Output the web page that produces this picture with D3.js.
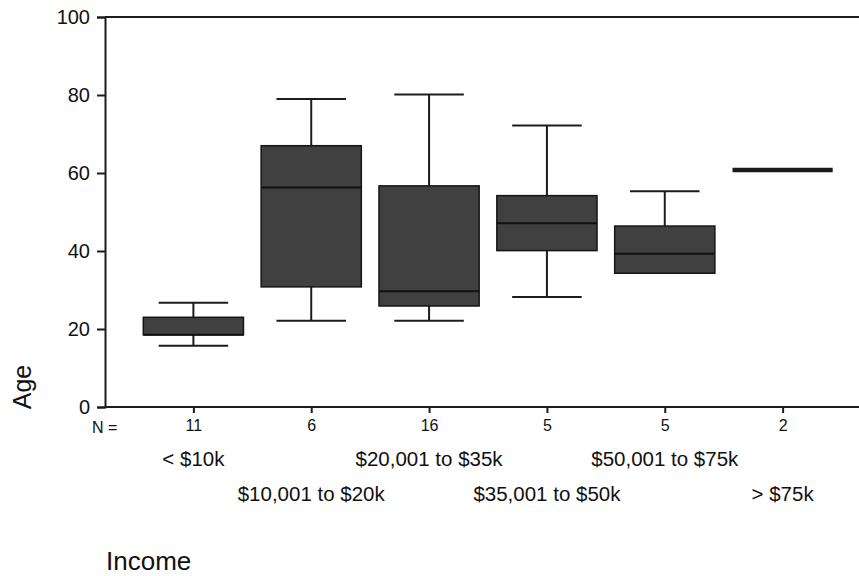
<!DOCTYPE html>
<html>
<head>
<meta charset="utf-8">
<script src="https://cdn.jsdelivr.net/npm/d3@7"></script>
<style>
  html, body { margin: 0; padding: 0; background: #ffffff; }
  svg { display: block; }
  text { font-family: "Liberation Sans", Arial, sans-serif; fill: #111; }
</style>
</head>
<body>
<svg id="chart" width="859" height="576"></svg>
<script>
// ---- Data ----
const categories = ["< $10k", "$10,001 to $20k", "$20,001 to $35k", "$35,001 to $50k", "$50,001 to $75k", "> $75k"];
const nCounts    = [11, 6, 16, 5, 5, 2];
const whiskerMin = [15.7, 22.1, 22.1, 28.2, 34.3, 60.8];
const q1Values   = [18.5, 30.8, 25.9, 40.1, 34.3, 60.8];
const medians    = [18.5, 56.3, 29.7, 47.1, 39.3, 60.8];
const q3Values   = [23.0, 67.0, 56.7, 54.2, 46.4, 60.8];
const whiskerMax = [26.7, 79.0, 80.1, 72.2, 55.3, 60.8];
const yTicks     = [0, 20, 40, 60, 80, 100];
const yTitle = "Age";
const xTitle = "Income";

// ---- Layout ----
const svg = d3.select("#chart");
const plotLeft = 105, plotRight = 871, plotTop = 17, plotBottom = 407;

const x = d3.scalePoint().domain(categories).range([plotLeft, plotRight]).padding(0.75);
const y = d3.scaleLinear().domain([0, 100]).range([plotBottom, plotTop]);
const step = x.step();
const boxW = step * 0.85;
const capW = step * 0.59;
const ink = "#1c1c1c";

const boxes = categories.map((c, i) => ({
  cat: c, n: nCounts[i], min: whiskerMin[i], q1: q1Values[i], med: medians[i], q3: q3Values[i], max: whiskerMax[i]
}));

// top frame line
svg.append("line")
  .attr("x1", plotLeft).attr("x2", plotRight).attr("y1", y(100)).attr("y2", y(100))
  .attr("stroke", ink).attr("stroke-width", 2);

// y axis
const yAxis = svg.append("g")
  .attr("transform", `translate(${plotLeft},0)`)
  .call(d3.axisLeft(y).tickValues(yTicks).tickSize(8).tickPadding(7).tickFormat(d3.format("d")));
yAxis.select(".domain").attr("stroke", ink).attr("stroke-width", 2);
yAxis.selectAll(".tick line").attr("stroke", ink).attr("stroke-width", 2);
yAxis.selectAll(".tick text").style("font-size", "20px").attr("fill", "#111")
  .style("font-family", "'Liberation Sans', Arial, sans-serif");

// x axis (ticks with N labels)
const xAxis = svg.append("g")
  .attr("transform", `translate(0,${plotBottom})`)
  .call(d3.axisBottom(x).tickSize(6).tickPadding(7).tickFormat((d, i) => nCounts[i]));
xAxis.select(".domain").attr("d", `M${plotLeft},0H${plotRight}`).attr("stroke", ink).attr("stroke-width", 2);
xAxis.selectAll(".tick line").attr("stroke", ink).attr("stroke-width", 2);
xAxis.selectAll(".tick text").style("font-size", "16px").attr("fill", "#111")
  .style("font-family", "'Liberation Sans', Arial, sans-serif");

svg.append("text").attr("x", 92).attr("y", 433).style("font-size", "16px").text("N =");

// category labels on two staggered rows
svg.append("g").selectAll("text").data(categories).join("text")
  .attr("x", d => x(d))
  .attr("y", (d, i) => i % 2 === 0 ? 466 : 501)
  .attr("text-anchor", "middle")
  .style("font-size", "20.5px")
  .text(d => d);

// boxes
const g = svg.append("g");
boxes.forEach(b => {
  const cx = x(b.cat);
  if (b.max > b.q3) {
    g.append("line").attr("x1", cx).attr("x2", cx).attr("y1", y(b.q3)).attr("y2", y(b.max))
      .attr("stroke", ink).attr("stroke-width", 2);
    g.append("line").attr("x1", cx - capW / 2).attr("x2", cx + capW / 2).attr("y1", y(b.max)).attr("y2", y(b.max))
      .attr("stroke", ink).attr("stroke-width", 2);
  }
  if (b.min < b.q1) {
    g.append("line").attr("x1", cx).attr("x2", cx).attr("y1", y(b.q1)).attr("y2", y(b.min))
      .attr("stroke", ink).attr("stroke-width", 2);
    g.append("line").attr("x1", cx - capW / 2).attr("x2", cx + capW / 2).attr("y1", y(b.min)).attr("y2", y(b.min))
      .attr("stroke", ink).attr("stroke-width", 2);
  }
  const h = y(b.q1) - y(b.q3);
  if (h > 0.5) {
    g.append("rect")
      .attr("x", cx - boxW / 2).attr("y", y(b.q3))
      .attr("width", boxW).attr("height", h)
      .attr("fill", "#404040").attr("stroke", "#151515").attr("stroke-width", 1.5);
    g.append("line").attr("x1", cx - boxW / 2).attr("x2", cx + boxW / 2).attr("y1", y(b.med)).attr("y2", y(b.med))
      .attr("stroke", "#111").attr("stroke-width", 2);
  } else {
    g.append("line").attr("x1", cx - boxW / 2).attr("x2", cx + boxW / 2).attr("y1", y(b.med)).attr("y2", y(b.med))
      .attr("stroke", "#1a1a1a").attr("stroke-width", 4.5);
  }
});

// axis titles
svg.append("text")
  .attr("transform", "translate(31,387) rotate(-90)")
  .attr("text-anchor", "middle")
  .style("font-size", "25px")
  .text(yTitle);

svg.append("text").attr("x", 106).attr("y", 570).style("font-size", "26px").text(xTitle);
</script>
</body>
</html>
